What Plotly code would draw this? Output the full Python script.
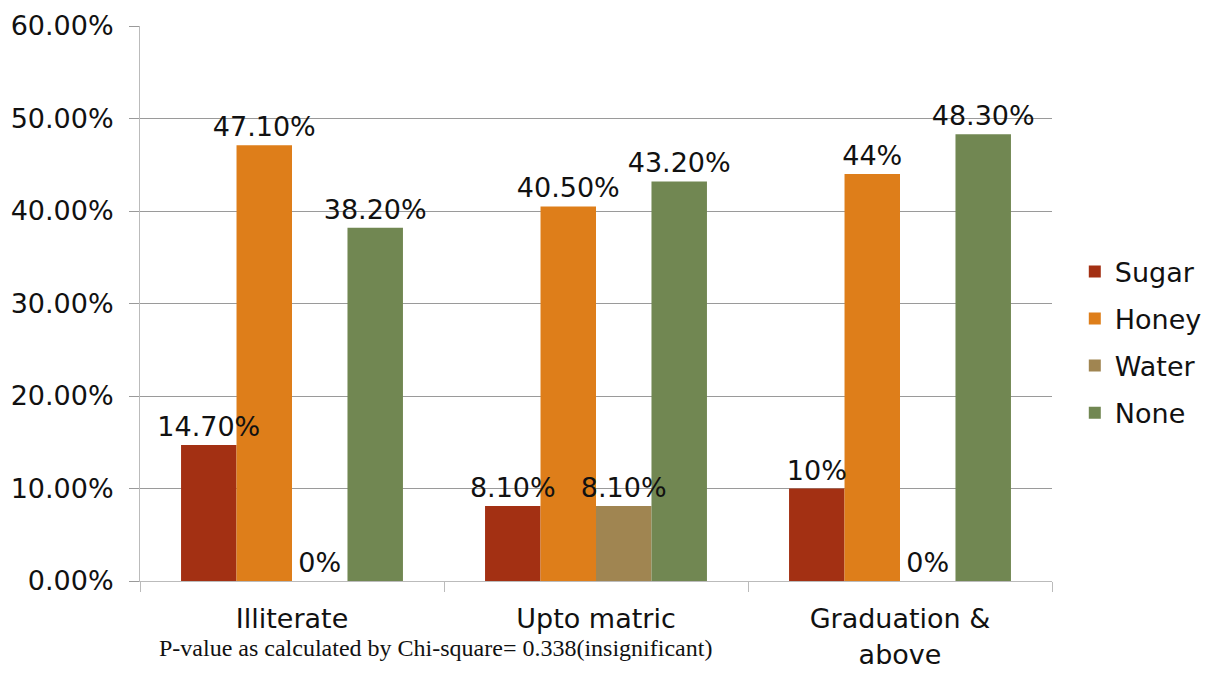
import plotly.graph_objects as go

# Education level groups and response shares (%)
categories = ["Illiterate", "Upto matric", "Graduation &<br>above"]
sugar = [14.7, 8.1, 10]
honey = [47.1, 40.5, 44]
water = [0, 8.1, 0]
none_ = [38.2, 43.2, 48.3]

series_names = ["Sugar", "Honey", "Water", "None"]
series_values = [sugar, honey, water, none_]
series_colors = ["#A33013", "#DE7E1A", "#A08551", "#718752"]

y_ticks = [0, 10, 20, 30, 40, 50, 60]

FONT = "DejaVu Sans"
FS = 27


def fmt(v):
    return f"{v:g}%" if float(v).is_integer() else f"{v:.2f}%"


fig = go.Figure()
# Filled bars
for name, vals, col in zip(series_names, series_values, series_colors):
    fig.add_trace(go.Bar(
        name=name,
        legendgroup=name,
        offsetgroup=name,
        x=categories,
        y=vals,
        marker=dict(color=col, line=dict(width=0)),
        hoverinfo="skip",
    ))
# Value labels drawn on a transparent copy so they sit above every bar
for name, vals in zip(series_names, series_values):
    fig.add_trace(go.Bar(
        name=name,
        legendgroup=name,
        offsetgroup=name,
        showlegend=False,
        x=categories,
        y=vals,
        marker=dict(color="rgba(0,0,0,0)",
                    line=dict(width=8, color="rgba(0,0,0,0)")),
        text=[fmt(v) for v in vals],
        textposition="outside",
        constraintext="none",
        cliponaxis=False,
        textfont=dict(family=FONT, size=FS, color="#111111"),
    ))

fig.update_layout(
    width=1216, height=673,
    margin=dict(l=140, r=164, t=26, b=92, autoexpand=False),
    paper_bgcolor="white", plot_bgcolor="white",
    barmode="group", bargap=0.27, bargroupgap=0,
    font=dict(family=FONT, size=FS, color="#111111"),
    showlegend=True,
    legend=dict(x=1.025, y=0.43, xanchor="left", yanchor="middle",
                font=dict(family=FONT, size=FS, color="#111111"),
                itemwidth=30, tracegroupgap=9),
    xaxis=dict(
        type="category", tickson="boundaries", ticks="outside", ticklen=10,
        tickcolor="#BBBBBB", showline=True, linecolor="#BBBBBB", linewidth=1,
        showgrid=False, tickfont=dict(family=FONT, size=FS),
        ticklabelstandoff=14, automargin=False,
    ),
    yaxis=dict(
        range=[0, 60], tickvals=y_ticks,
        ticktext=[f"{v:.2f}%" for v in y_ticks],
        showgrid=True, gridcolor="#9A9A9A", gridwidth=1,
        ticks="outside", ticklen=10, tickcolor="#9A9A9A",
        showline=True, linecolor="#BBBBBB", linewidth=1,
        zeroline=False, tickfont=dict(family=FONT, size=FS),
        ticklabelstandoff=10, automargin=False,
    ),
)

fig.add_annotation(
    text="P-value as calculated by Chi-square= 0.338(insignificant)",
    xref="paper", yref="paper", x=0.324, y=-0.12,
    xanchor="center", yanchor="middle", showarrow=False,
    font=dict(family="Liberation Serif", size=24, color="#111111"),
)

fig.write_html("out.html")
